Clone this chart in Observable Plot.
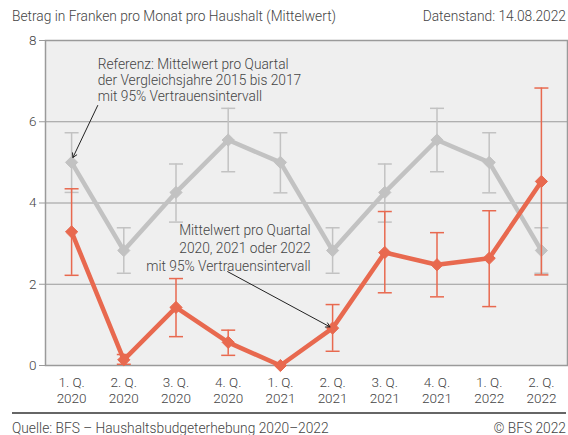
<!DOCTYPE html>
<html>
<head>
<meta charset="utf-8">
<script src="https://cdn.jsdelivr.net/npm/d3@7"></script>
<script src="https://cdn.jsdelivr.net/npm/@observablehq/plot@0.6"></script>
<style>
  body { margin: 0; background: #fff; font-family: Roboto, sans-serif; font-weight: 300; color: #444; }
  #wrap { position: relative; width: 568px; height: 435px; overflow: hidden; }
  .t { position: absolute; font-size: 13.75px; line-height: 16px; white-space: nowrap; }
  #chart { position: absolute; left: 0; top: 28px; }
  #rule { position: absolute; left: 12px; right: 2px; top: 412px; height: 0; border-top: 2px solid #666; }
</style>
</head>
<body>
<div id="wrap">
  <div class="t" style="left:12px;top:8px">Betrag in Franken pro Monat pro Haushalt (Mittelwert)</div>
  <div class="t" style="right:2px;top:8px">Datenstand: 14.08.2022</div>
  <div id="chart"></div>
  <div id="rule"></div>
  <div class="t" style="left:12px;top:420px">Quelle: BFS – Haushaltsbudgeterhebung 2020–2022</div>
  <div class="t" style="right:2px;top:420px">© BFS 2022</div>
</div>
<script>
const quarters = ["1. Q.", "2. Q.", "3. Q.", "4. Q.", "1. Q.", "2. Q.", "3. Q.", "4. Q.", "1. Q.", "2. Q."];
const years = ["2020", "2020", "2020", "2020", "2021", "2021", "2021", "2021", "2022", "2022"];
const refMean = [5.0, 2.83, 4.26, 5.55, 5.0, 2.83, 4.26, 5.55, 5.0, 2.83];
const refLow = [4.26, 2.27, 3.53, 4.77, 4.25, 2.27, 3.53, 4.77, 4.25, 2.27];
const refHigh = [5.73, 3.39, 4.96, 6.33, 5.73, 3.39, 4.96, 6.33, 5.73, 3.39];
const obsMean = [3.29, 0.14, 1.43, 0.57, 0, 0.92, 2.78, 2.48, 2.64, 4.53];
const obsLow = [2.22, 0.03, 0.71, 0.25, null, 0.35, 1.79, 1.69, 1.45, 2.23];
const obsHigh = [4.35, 0.27, 2.14, 0.87, null, 1.50, 3.79, 3.27, 3.81, 6.83];
const yTicks = [0, 2, 4, 6, 8];
const refNote = "Referenz: Mittelwert pro Quartal\nder Vergleichsjahre 2015 bis 2017\nmit 95% Vertrauensintervall";
const obsNote = "Mittelwert pro Quartal\n2020, 2021 oder 2022\nmit 95% Vertrauensintervall";

const RED = "#e8694f";
const GRAY = "#c2c2c2";

const ref = refMean.map((v, i) => ({i, mean: v, low: refLow[i], high: refHigh[i]}));
const obs = obsMean.map((v, i) => ({i, mean: v, low: obsLow[i], high: obsHigh[i]}));
const obsCI = obs.filter(d => d.low != null);

const cap = { draw(ctx, size) { const r = Math.sqrt(size / Math.PI); ctx.moveTo(-r, 0); ctx.lineTo(r, 0); } };

function bars(data, color) {
  return [
    Plot.ruleX(data, {x: "i", y1: "low", y2: "high", stroke: color, strokeWidth: 1.5}),
    Plot.dot(data, {x: "i", y: "low", symbol: cap, r: 7, stroke: color, fill: "none", strokeWidth: 1.5}),
    Plot.dot(data, {x: "i", y: "high", symbol: cap, r: 7, stroke: color, fill: "none", strokeWidth: 1.5})
  ];
}

const chart = Plot.plot({
  width: 568,
  height: 382,
  marginTop: 12,
  marginBottom: 45,
  marginLeft: 45,
  marginRight: 1,
  style: {fontFamily: "Roboto, sans-serif", fontWeight: 300, fontSize: "13.5px", color: "#444", background: "transparent"},
  x: {domain: [-0.5, 9.5]},
  y: {domain: [0, 8]},
  marks: [
    Plot.frame({fill: "#efefef", stroke: "none"}),
    Plot.gridY({ticks: [2, 4, 6], stroke: "#9a9a9a", strokeOpacity: 1, strokeWidth: 1.2}),
    Plot.frame({stroke: "#9a9a9a", strokeWidth: 1.5}),
    Plot.axisY({ticks: yTicks, tickSize: 6, tickPadding: 3, stroke: "#9a9a9a", fill: "#444", fontSize: 13.5, label: null}),
    Plot.axisX({ticks: d3.range(quarters.length), tickFormat: i => quarters[i] + "\n" + years[i], tickSize: 0, tickPadding: 10, fill: "#444", fontSize: 13.5, lineHeight: 1.19, label: null}),
    ...bars(ref, GRAY),
    Plot.line(ref, {x: "i", y: "mean", stroke: GRAY, strokeWidth: 4.5}),
    Plot.dot(ref, {x: "i", y: "mean", symbol: "diamond2", r: 5.5, fill: GRAY, stroke: GRAY, strokeWidth: 1}),
    ...bars(obsCI, RED),
    Plot.line(obs, {x: "i", y: "mean", stroke: RED, strokeWidth: 4.5}),
    Plot.dot(obs, {x: "i", y: "mean", symbol: "diamond2", r: 5.5, fill: RED, stroke: RED, strokeWidth: 1}),
    Plot.text([refNote], {x: 0.5, y: 7.03, text: d => d, textAnchor: "start", lineHeight: 1.185, fontSize: 13.75, fill: "#444"}),
    Plot.text([obsNote], {x: 4.58, y: 2.92, text: d => d, textAnchor: "end", lineHeight: 1.31, fontSize: 13.75, fill: "#444"}),
    Plot.arrow([0], {x1: 0.5, y1: 6.4, x2: 0.025, y2: 5.12, stroke: "#222", strokeWidth: 1, headLength: 7}),
    Plot.arrow([0], {x1: 2.99, y1: 2.31, x2: 4.95, y2: 0.95, stroke: "#222", strokeWidth: 1, headLength: 7})
  ]
});
document.getElementById("chart").appendChild(chart);
</script>
</body>
</html>
